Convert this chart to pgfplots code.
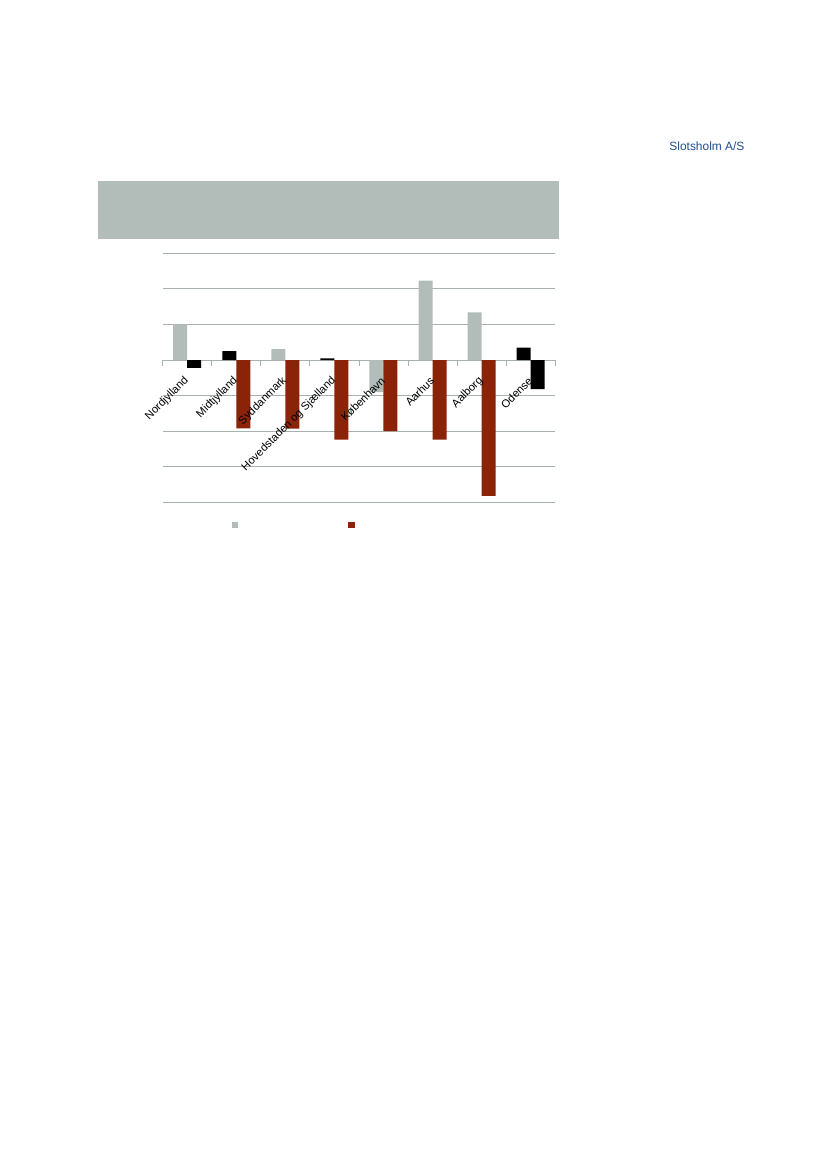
\documentclass[border=0pt]{standalone}
\usepackage{pgfplots}
\pgfplotsset{compat=1.18}
\usepackage{fontspec}
\setmainfont{Liberation Sans}
\definecolor{sgray}{HTML}{B2BCB9}
\definecolor{sred}{HTML}{8B2308}
\definecolor{gridc}{HTML}{A9B1AF}
\definecolor{sblue}{HTML}{1F4E96}

\pgfplotsset{chartframe/.style={
    at={(117.1pt,480.0pt)}, anchor=south west,
    scale only axis,
    width=282.7pt, height=179.3pt,
    xmin=-0.5, xmax=7.5,
    ymin=-4, ymax=3,
}}

\begin{document}
\begin{tikzpicture}
% page, 826 x 1169 px at 0.72 pt per px
\path[use as bounding box, fill=white] (0,0) rectangle (594.72pt,841.68pt);
% header banner
\fill[sgray] (70.56pt,669.8pt) rectangle (402.7pt,711.6pt);
\node[text=sblue, font=\fontsize{8.6}{10}\selectfont] at (509pt,736.6pt) {Slotsholm A/S};

% bars and grid
\begin{axis}[
    chartframe,
    ybar,
    bar width=10.08pt,
    ytick={-4,...,3},
    yticklabels={},
    ytick style={draw=none},
    ymajorgrids,
    grid style={gridc, line width=0.6pt},
    axis x line=middle,
    axis y line=left,
    y axis line style={draw=none},
    x axis line style={-, gridc, line width=0.6pt},
    xtick={0,...,7},
    xticklabels={},
    major x tick style={draw=none},
    minor xtick={-0.5,0.5,...,7.5},
    minor x tick style={gridc, line width=0.6pt},
    minor tick length=4pt,
    xtick align=outside,
    legend style={draw=none, fill=none, at={(0.165,-0.09)}, anchor=west, legend columns=2,
        /tikz/every even column/.append style={column sep=75.5pt}},
    legend image code/.code={\fill[#1] (0pt,-2.2pt) rectangle (4.4pt,2.2pt);},
]
% left series
\addplot[fill=sgray, draw=none, bar shift=-5.04pt] coordinates {(0,1.00) (2,0.31) (4,-0.90) (5,2.23) (6,1.34)};
\addlegendentry{}
\addplot[fill=black, draw=none, bar shift=-5.04pt, forget plot] coordinates {(1,0.25) (3,0.05) (7,0.35)};
% right series
\addplot[fill=sred, draw=none, bar shift=5.04pt] coordinates {(1,-1.92) (2,-1.93) (3,-2.24) (4,-2.00) (5,-2.24) (6,-3.82)};
\addlegendentry{}
\addplot[fill=black, draw=none, bar shift=5.04pt, forget plot] coordinates {(0,-0.22) (7,-0.82)};
\end{axis}

% category labels, drawn over the bars
\begin{axis}[
    chartframe,
    axis x line=middle,
    axis y line=none,
    x axis line style={draw=none},
    ytick=\empty,
    xtick={0,...,7},
    xticklabels={Nordjylland,Midtjylland,Syddanmark,Hovedstaden og Sjælland,København,Aarhus,Aalborg,Odense},
    major x tick style={draw=none},
    xticklabel style={xshift=0.5pt, yshift=-10.7pt, rotate=45, anchor=east, font=\fontsize{8.0}{10}\selectfont, inner sep=1pt},
]
\end{axis}
\end{tikzpicture}
\end{document}
